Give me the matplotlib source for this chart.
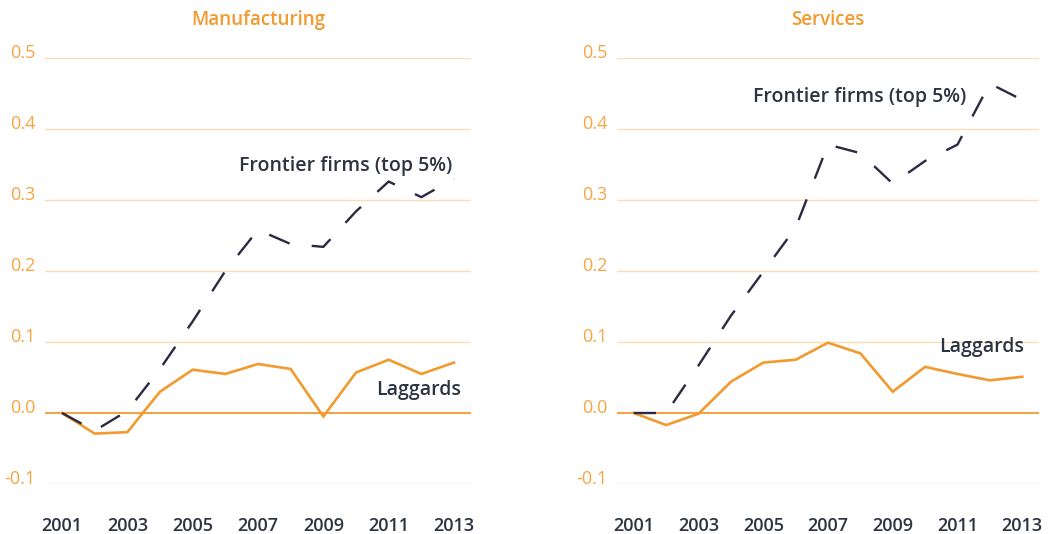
import matplotlib
matplotlib.use("Agg")
import matplotlib.pyplot as plt

plt.rcParams['font.family'] = ['Open Sans', 'DejaVu Sans']
plt.rcParams['lines.scale_dashes'] = False

years = list(range(2001, 2014))
titles = ["Manufacturing", "Services"]
frontier_manuf = [0.0, -0.025, 0.003, 0.062, 0.129, 0.200, 0.258, 0.238, 0.234, 0.284, 0.326, 0.304, 0.330]
laggards_manuf = [0.0, -0.029, -0.027, 0.030, 0.061, 0.055, 0.069, 0.062, -0.005, 0.057, 0.075, 0.055, 0.071]
frontier_serv = [0.0, 0.0, 0.067, 0.137, 0.199, 0.261, 0.378, 0.366, 0.323, 0.355, 0.378, 0.464, 0.441]
laggards_serv = [0.0, -0.017, -0.001, 0.044, 0.071, 0.075, 0.099, 0.084, 0.030, 0.065, 0.055, 0.046, 0.051]
yticks = [-0.1, 0.0, 0.1, 0.2, 0.3, 0.4, 0.5]
xticks = [2001, 2003, 2005, 2007, 2009, 2011, 2013]
series_label = "Frontier firms (top 5%)"
laggard_label = "Laggards"

ORANGE = "#F29A2E"
TICK_ORANGE = "#F6A543"
GRID = "#FCDDB3"
DARK = "#2D2843"
TEXT = "#2B3440"

fig = plt.figure(figsize=(10.59, 5.34), dpi=100)
W, H = 1059, 534
axes = [fig.add_axes([45 / W, 50 / H, 426 / W, 426 / H]),
        fig.add_axes([617 / W, 50 / H, 422 / W, 426 / H])]

data = [(frontier_manuf, laggards_manuf), (frontier_serv, laggards_serv)]
frontier_pos = [(2009.69, 0.348), (2007.98, 0.445)]
laggard_pos = [(2011.93, 0.032), (2011.74, 0.093)]

for ax, title, (fr, lg), fpos, lpos in zip(axes, titles, data, frontier_pos, laggard_pos):
    ax.set_xlim(2000.48, 2013.52)
    ax.set_ylim(-0.1, 0.5)
    for s in ax.spines.values():
        s.set_visible(False)
    ax.set_yticks(yticks)
    ax.set_yticklabels([f"{v:.1f}" for v in yticks])
    ax.set_xticks(xticks)
    ax.set_xticklabels([str(x) for x in xticks])
    ax.tick_params(axis='y', length=0, pad=7, labelsize=13, labelcolor=TICK_ORANGE)
    ax.tick_params(axis='x', length=0, pad=24, labelsize=13, labelcolor=TEXT)
    for lab in ax.get_yticklabels():
        lab.set_va('baseline')
    for lab in ax.get_xticklabels():
        lab.set_fontweight('semibold')
    for v in yticks:
        if v == 0.0:
            ax.axhline(v, color=ORANGE, lw=1.3, zorder=1)
        else:
            ax.axhline(v, color=GRID, lw=1.0, zorder=1)
    ax.plot(years, lg, color=ORANGE, lw=1.9, zorder=3, solid_joinstyle='miter')
    ax.plot(years, fr, color=DARK, lw=1.7, zorder=4, dashes=(16, 16))
    ax.set_title(title, color=ORANGE, fontsize=13.5, fontweight='semibold', pad=24)
    ax.text(fpos[0], fpos[1], series_label, color=TEXT, fontsize=14, ha='center', va='center', fontweight='semibold')
    ax.text(lpos[0], lpos[1], laggard_label, color=TEXT, fontsize=14, ha='center', va='center', fontweight='semibold')

fig.savefig("out.png", dpi=100)
